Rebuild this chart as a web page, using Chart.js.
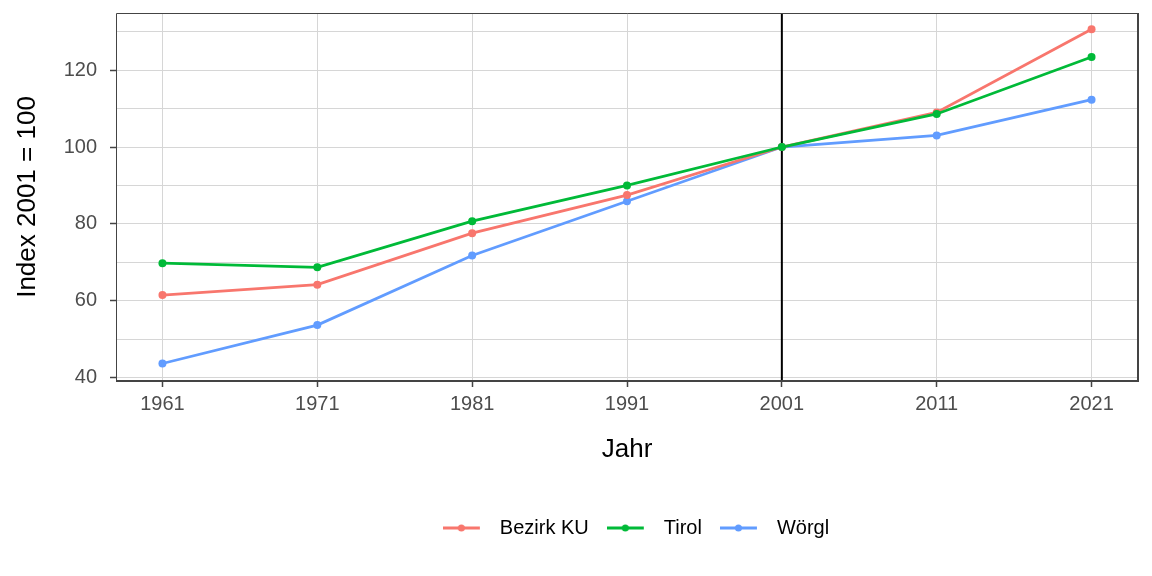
<!DOCTYPE html>
<html>
<head>
<meta charset="utf-8">
<script src="https://cdn.jsdelivr.net/npm/chart.js@4"></script>
<style>
  html, body { margin: 0; padding: 0; background: #fff; }
  #wrap { width: 1152px; height: 576px; }
</style>
</head>
<body>
<div id="wrap"><canvas id="chart" width="1152" height="576"></canvas></div>
<script>
// Data (index 2001 = 100)
const years = [1961, 1971, 1981, 1991, 2001, 2011, 2021];
const bezirkKU = [61.5, 64.2, 77.6, 87.5, 100, 109.0, 130.6];
const tirol = [69.8, 68.7, 80.7, 90.0, 100, 108.6, 123.4];
const woergl = [43.7, 53.7, 71.8, 85.9, 100, 103.0, 112.3];
const seriesNames = ['Bezirk KU', 'Tirol', 'Wörgl'];
const yTicks = [40, 50, 60, 70, 80, 90, 100, 110, 120, 130];

const colors = ['#F8766D', '#00BA38', '#619CFF'];
const FONT = "'Liberation Sans', Arial, sans-serif";

// legend marker: line with a dot in the middle
function legendMarker(color) {
    const c = document.createElement('canvas');
    c.width = 47;
    c.height = 10;
    const g = c.getContext('2d');
    g.strokeStyle = color;
    g.lineWidth = 2.8;
    g.beginPath();
    g.moveTo(0, 5);
    g.lineTo(37, 5);
    g.stroke();
    g.fillStyle = color;
    g.beginPath();
    g.arc(18.5, 5, 3.5, 0, Math.PI * 2);
    g.fill();
    return c;
}
const markers = colors.map(legendMarker);

function toPoints(values) {
    return years.map((y, i) => ({ x: y, y: values[i] }));
}

function makeDataset(idx, values, order) {
    return {
        label: seriesNames[idx],
        data: toPoints(values),
        borderColor: colors[idx],
        backgroundColor: colors[idx],
        pointBackgroundColor: colors[idx],
        pointBorderWidth: 0,
        pointRadius: 4,
        borderWidth: 2.8,
        tension: 0,
        order: order
    };
}

// vertical reference line at 2001, the panel frame, small legend nudge
const decorations = {
    id: 'decorations',
    afterLayout(chart) {
        if (chart.legend) {
            chart.legend.left += 9;
            chart.legend.right += 9;
        }
    },
    beforeDatasetsDraw(chart) {
        const { ctx, chartArea, scales } = chart;
        const x = scales.x.getPixelForValue(2001);
        ctx.save();
        ctx.strokeStyle = '#000';
        ctx.lineWidth = 2;
        ctx.beginPath();
        ctx.moveTo(x, chartArea.top);
        ctx.lineTo(x, chartArea.bottom);
        ctx.stroke();
        ctx.restore();
    },
    afterDraw(chart) {
        const { ctx, chartArea } = chart;
        const { left, right, top, bottom } = chartArea;
        ctx.save();
        ctx.strokeStyle = '#444';
        ctx.lineWidth = 1;
        ctx.beginPath();
        ctx.moveTo(left + 0.5, bottom);
        ctx.lineTo(left + 0.5, top + 0.5);
        ctx.lineTo(right, top + 0.5);
        ctx.stroke();
        ctx.lineWidth = 2;
        ctx.beginPath();
        ctx.moveTo(right, top);
        ctx.lineTo(right, bottom);
        ctx.lineTo(left, bottom);
        ctx.stroke();
        ctx.restore();
    }
};

const ctx = document.getElementById('chart').getContext('2d');
const chart = new Chart(ctx, {
    type: 'line',
    data: {
        datasets: [
            makeDataset(0, bezirkKU, 1),
            makeDataset(1, tirol, 0),
            makeDataset(2, woergl, 2)
        ]
    },
    options: {
        responsive: false,
        animation: false,
        devicePixelRatio: 1,
        layout: {
            padding: { left: 0, top: 13, right: 14, bottom: 28 }
        },
        scales: {
            x: {
                type: 'linear',
                min: 1958,
                max: 2024,
                afterBuildTicks: (scale) => {
                    scale.ticks = years.map(v => ({ value: v }));
                },
                afterFit: (scale) => { scale.height = 119; },
                border: { display: false },
                grid: {
                    color: '#d6d6d6',
                    lineWidth: 1,
                    tickColor: '#444',
                    tickLength: 6,
                    tickWidth: 1.5
                },
                ticks: {
                    color: '#4d4d4d',
                    font: { family: FONT, size: 20 },
                    padding: 5,
                    maxRotation: 0,
                    callback: (v) => String(v)
                },
                title: {
                    display: true,
                    text: 'Jahr',
                    color: '#000',
                    font: { family: FONT, size: 26 },
                    padding: { top: 0, bottom: 35 }
                }
            },
            y: {
                min: 39.15,
                max: 134.85,
                afterBuildTicks: (scale) => {
                    scale.ticks = yTicks.map(v => ({ value: v }));
                },
                afterFit: (scale) => {
                    scale.width = 116;
                    scale.paddingTop = 0;
                    scale.paddingBottom = 0;
                },
                border: { display: false },
                grid: {
                    color: '#d6d6d6',
                    lineWidth: 1,
                    tickColor: (c) => (c.tick && c.tick.value % 20 === 0) ? '#444' : 'rgba(0,0,0,0)',
                    tickLength: 6,
                    tickWidth: 1.5
                },
                ticks: {
                    color: '#4d4d4d',
                    font: { family: FONT, size: 20 },
                    padding: 13,
                    callback: (v) => (v % 20 === 0 ? String(v) : '')
                },
                title: {
                    display: true,
                    text: 'Index 2001 = 100',
                    color: '#000',
                    font: { family: FONT, size: 26 },
                    padding: { top: 12, bottom: 0 }
                }
            }
        },
        plugins: {
            tooltip: { enabled: false },
            legend: {
                position: 'bottom',
                fullSize: false,
                labels: {
                    usePointStyle: true,
                    pointStyleWidth: 47,
                    color: '#000',
                    font: { family: FONT, size: 20 },
                    padding: 18,
                    sort: (a, b) => a.datasetIndex - b.datasetIndex,
                    generateLabels: (ch) => {
                        const items = Chart.defaults.plugins.legend.labels.generateLabels(ch);
                        items.forEach((it) => { it.pointStyle = markers[it.datasetIndex]; });
                        return items;
                    }
                }
            }
        }
    },
    plugins: [decorations]
});
</script>
</body>
</html>
